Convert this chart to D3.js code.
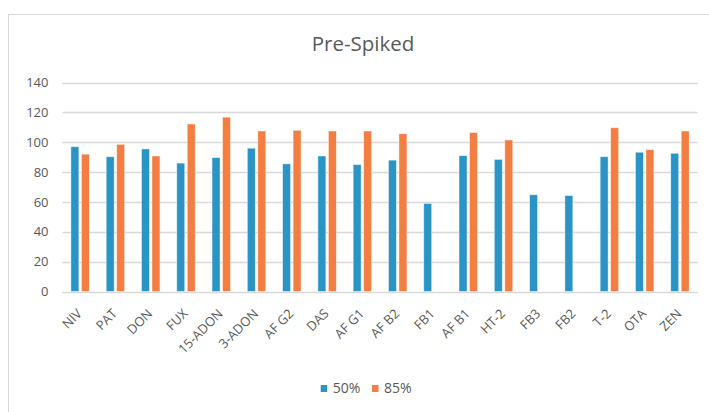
<!DOCTYPE html>
<html><head><meta charset="utf-8">
<script src="https://cdn.jsdelivr.net/npm/d3@7"></script>
<style>body{margin:0;background:#fff}svg{display:block}</style>
</head><body>
<svg id="c" width="709" height="412"></svg>
<script>
const categories = ["NIV","PAT","DON","FUX","15-ADON","3-ADON","AF G2","DAS","AF G1","AF B2","FB1","AF B1","HT-2","FB3","FB2","T-2","OTA","ZEN"];
const series50 = [97, 90.3, 95.5, 86, 89.7, 96, 85.5, 90.8, 85, 88, 59, 91, 88.5, 64.8, 64.3, 90.3, 93.3, 92.6];
const series85 = [92, 98.6, 90.8, 112.2, 116.8, 107.5, 108, 107.5, 107.5, 105.7, null, 106.5, 101.5, null, null, 109.7, 95, 107.5];
const seriesNames = ["50%","85%"];
const colors = ["#2a94c6","#f47d42"];
const yTicks = [0,20,40,60,80,100,120,140];
const title = "Pre-Spiked";

(function(){
const svg = d3.select("#c");
const font = "'Open Sans', sans-serif";
const txt = "#595959";

svg.append("rect").attr("x",8.5).attr("y",14.5).attr("width",720).attr("height",420)
  .attr("fill","#fff").attr("stroke","#d9d9d9").attr("stroke-width",1);

const pl = 62.5, pr = 697.6, pt = 82.5, pb = 291.5;
const x = d3.scaleBand().domain(categories).range([pl, pr]);
const y = d3.scaleLinear().domain([0,140]).range([pb, pt]);

svg.append("g").selectAll("line").data(yTicks).join("line")
  .attr("x1",pl).attr("x2",pr)
  .attr("y1",d=>Math.round(y(d))+0.5).attr("y2",d=>Math.round(y(d))+0.5)
  .attr("stroke","#d9d9d9").attr("stroke-width",1.3);

const yAxis = d3.axisLeft(y).tickValues(yTicks).tickSize(0).tickPadding(0);
const ga = svg.append("g").attr("transform",`translate(48.5,0)`).call(yAxis);
ga.select(".domain").remove();
ga.selectAll("text").attr("font-family",font).attr("font-size",13).attr("fill",txt);

const bw = 8, gap = 2.5;
[series50, series85].forEach((s,si)=>{
  svg.append("g").selectAll("rect").data(categories.map((c,i)=>({c,v:s[i]})).filter(d=>d.v!=null))
    .join("rect")
    .attr("x",d=>x(d.c)+x.bandwidth()/2 - bw - gap/2 + si*(bw+gap))
    .attr("y",d=>y(d.v))
    .attr("width",bw)
    .attr("height",d=>y(0)-y(d.v))
    .attr("fill",colors[si])
    .attr("stroke","rgba(255,255,255,0.6)").attr("stroke-width",0.8);
});

const xAxis = d3.axisBottom(x).tickSize(0).tickPadding(0);
const gx = svg.append("g").attr("transform",`translate(0,${pb})`).call(xAxis);
gx.select(".domain").remove();
gx.selectAll("text")
  .attr("font-family",font).attr("font-size",13).attr("fill",txt)
  .attr("text-anchor","end").attr("dy",null)
  .attr("transform","translate(2.5,23) rotate(-45)");

svg.append("text").attr("x",363).attr("y",51).attr("text-anchor","middle")
  .attr("font-family",font).attr("font-size",20.5).attr("fill",txt).text(title);

const lx = [320.7, 372];
seriesNames.forEach((n,i)=>{
  svg.append("rect").attr("x",lx[i]).attr("y",385).attr("width",6.5).attr("height",7).attr("fill",colors[i]);
  svg.append("text").attr("x",lx[i]+12).attr("y",393).attr("font-family",font).attr("font-size",14)
    .attr("fill",txt).text(n);
});
})();
</script>
</body></html>
